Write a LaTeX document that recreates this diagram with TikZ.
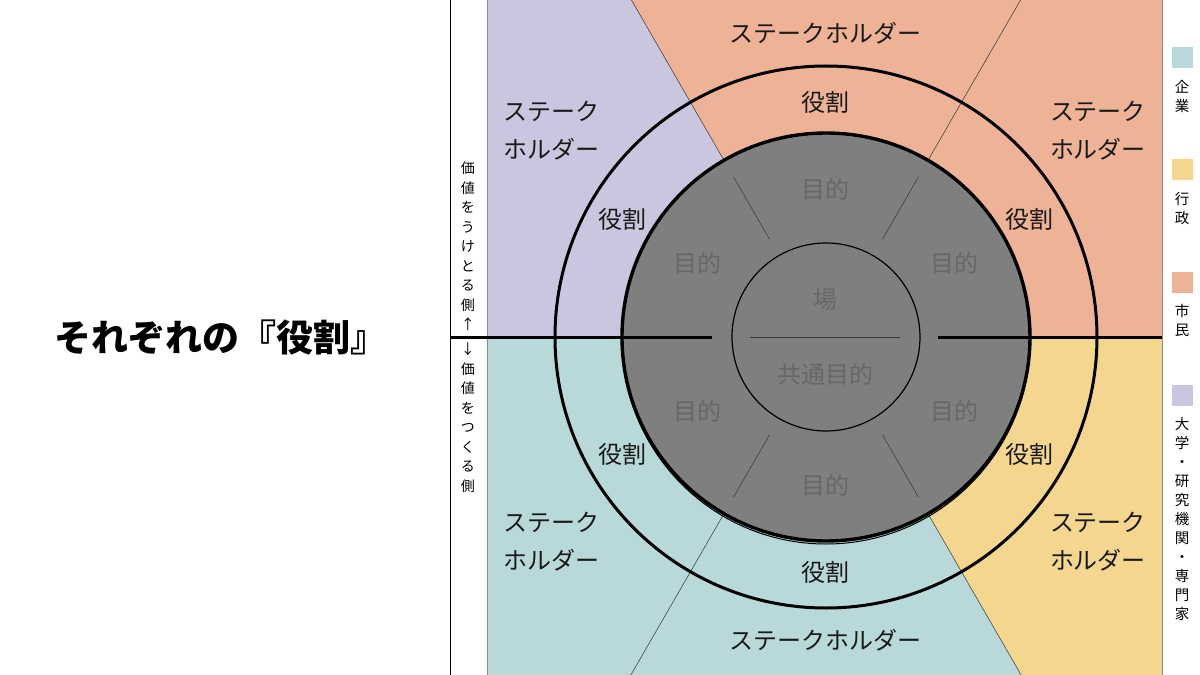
\documentclass[tikz,border=0pt]{standalone}
\usepackage{fontspec}
\setmainfont{Noto Sans CJK JP}
\definecolor{univpurple}{HTML}{CBC6DF}
\definecolor{citizenorange}{HTML}{EEB397}
\definecolor{firmblue}{HTML}{B8D8DA}
\definecolor{govyellow}{HTML}{F5D68F}
\definecolor{fieldgrey}{HTML}{7F7F7F}
\definecolor{goalgrey}{HTML}{676767}
\begin{document}
\begin{tikzpicture}[x=1pt,y=1pt,
		holder/.style={font=\fontsize{24}{38}\selectfont, align=center, text=black!90},
		role/.style={font=\fontsize{24}{28}\selectfont, text=black!90},
		goal/.style={font=\fontsize{24}{28}\selectfont, text=goalgrey},
		side/.style={font=\fontsize{14}{19.5}\selectfont, align=center, inner sep=0pt},
		legend/.style={font=\fontsize{14.5}{19}\selectfont, align=center, inner sep=0pt, anchor=north},
		swatch/.style={minimum size=21pt, inner sep=0pt}]
	\useasboundingbox (-826,-338) rectangle (374,337);
	% colour fields
	\begin{scope}
		\clip (-339,-338) rectangle (336,337);
		\fill[univpurple] (0,0) -- (120:700) arc (120:180:700) -- cycle;
		\fill[citizenorange] (0,0) -- (0:700) arc (0:120:700) -- cycle;
		\fill[firmblue] (0,0) -- (180:700) arc (180:300:700) -- cycle;
		\fill[govyellow] (0,0) -- (300:700) arc (300:360:700) -- cycle;
		\foreach \a in {60,120,240,300}
			\draw[black!80, line width=0.5pt] (\a:204) -- (\a:700);
	\end{scope}
	\draw[black!45, line width=0.6pt] (-339,-338) -- (-339,337) (336,-338) -- (336,337);
	\draw[line width=0.8pt] (-376,-338) -- (-376,337);
	% rings
	\draw[line width=3pt] (0,0) circle (271);
	\draw[line width=1pt] (0,-3) circle (204);
	\draw[line width=3.4pt, fill=fieldgrey] (0,0) circle (204);
	\draw[line width=1.2pt] (0,0) circle (94);
	\foreach \a in {60,120,240,300}
		\draw[black!75, line width=0.6pt] (\a:113) -- (\a:185);
	\draw[line width=3pt] (-376,0) -- (-114,0);
	\draw[line width=3pt] (112,0) -- (336,0);
	\draw[black!80, line width=0.8pt] (-76,0) -- (74,0);
	% texts
	\node[font=\fontsize{37}{42}\selectfont\bfseries] (title) at (-605,-1) {それぞれの『役割』};
	\node[side, anchor=south] (receive) at (-358,6) {価\\値\\を\\う\\け\\と\\る\\側\\↑};
	\node[side, anchor=north] (create) at (-358,-6) {↓\\価\\値\\を\\つ\\く\\る\\側};
	\node[holder] (holdertop) at (0,304) {ステークホルダー};
	\node[holder] (holderbottom) at (0,-303) {ステークホルダー};
	\node[holder] (holderlt) at (-274,206) {ステーク\\ホルダー};
	\node[holder] (holderrt) at (272,206) {ステーク\\ホルダー};
	\node[holder] (holderlb) at (-274,-205) {ステーク\\ホルダー};
	\node[holder] (holderrb) at (272,-205) {ステーク\\ホルダー};
	\foreach \a in {30,90,...,330}
		\node[role] (role\a) at (\a:235) {役割};
	\foreach \a in {30,90,...,330}
		\node[goal] (goal\a) at (\a:148) {目的};
	\node[goal] (field) at (0,37) {場};
	\node[goal] (common) at (0,-37) {共通目的};
	% legend
	\node[swatch, fill=firmblue] (keyfirm) at (356,279) {};
	\node[legend] (firm) at (356,257) {企\\業};
	\node[swatch, fill=govyellow] (keygov) at (356,167) {};
	\node[legend] (gov) at (356,145) {行\\政};
	\node[swatch, fill=citizenorange] (keycitizen) at (356,55) {};
	\node[legend] (citizen) at (356,33) {市\\民};
	\node[swatch, fill=univpurple] (keyuniv) at (356,-58) {};
	\node[legend] (univ) at (356,-80) {大\\学\\・\\研\\究\\機\\関\\・\\専\\門\\家};
\end{tikzpicture}
\end{document}
